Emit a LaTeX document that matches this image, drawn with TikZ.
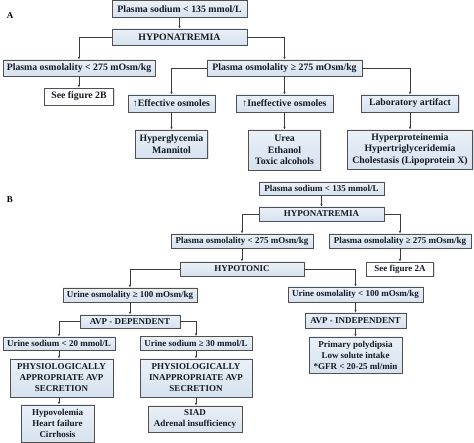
\documentclass[tikz,border=0pt]{standalone}
\usepackage{fontspec}
\setmainfont{Liberation Serif}
\usetikzlibrary{arrows.meta,shadows}
\definecolor{boxline}{HTML}{505050}
\definecolor{boxtop}{HTML}{EAF0F8}
\definecolor{boxbot}{HTML}{D6E2EF}
\definecolor{arrcol}{HTML}{3A3A3A}
\definecolor{txtcol}{HTML}{141A24}
\tikzset{
  bx/.style={draw=boxline, line width=0.9pt, top color=boxtop, bottom color=boxbot,
    drop shadow={shadow xshift=1pt, shadow yshift=-1pt, opacity=0.25},
    text=txtcol, inner sep=0pt, align=center, font=\bfseries\fontsize{9.8}{11.8}\selectfont},
  bxw/.style={bx, top color=white, bottom color=white},
  sb/.style={font=\bfseries\fontsize{9}{11}\selectfont},
  sz/.style 2 args={minimum width=#1pt, minimum height=#2pt},
  arr/.style={draw=arrcol, line width=0.7pt, -{Latex[length=2.6pt,width=2.4pt]}},
  lab/.style={font=\bfseries\fontsize{9}{11}\selectfont, inner sep=0pt}
}
\begin{document}
\begin{tikzpicture}[x=1pt,y=-1pt]
\useasboundingbox (0,0) rectangle (474,443);
% ---------- Part A ----------
\node[lab] (labelA) at (10,16) {A};
\node[bx, sz={135}{17}] (sA) at (179.5,9) {Plasma sodium < 135 mmol/L};
\node[bx, sz={135}{16}] (hA) at (179.5,37) {HYPONATREMIA};
\node[bx, sz={152}{16}] (p1A) at (79,68) {Plasma osmolality < 275 mOsm/kg};
\node[bx, sz={155}{16}] (p2A) at (284.5,68) {Plasma osmolality ≥ 275 mOsm/kg};
\node[bxw, sz={69}{17}] (fig2B) at (79,96.5) {See figure 2B};
\node[bx, sz={87}{17}] (effA) at (171.5,103.5) {↑Effective osmoles};
\node[bx, sz={97}{17}] (inefA) at (284.5,103.5) {↑Ineffective osmoles};
\node[bx, sz={97}{17}] (labA) at (410,103.5) {Laboratory artifact};
\node[bx, sz={72}{28}] (hgA) at (171.5,144) {Hyperglycemia\\Mannitol};
\node[bx, sz={72}{40}] (ureaA) at (284.5,150) {Urea\\Ethanol\\Toxic alcohols};
\node[bx, sz={125}{39}] (hpA) at (410,149.5) {Hyperproteinemia\\Hypertriglyceridemia\\Cholestasis (Lipoprotein X)};
\draw[arr] (sA.south) -- (sA.south |- hA.north);
\draw[arr] (hA.west) -| (p1A.north);
\draw[arr] (hA.east) -| (p2A.north);
\draw[arr] (p1A.south) -- (p1A.south |- fig2B.north);
\draw[arr] (p2A.west) -| (effA.north);
\draw[arr] (p2A.south) -- (p2A.south |- inefA.north);
\draw[arr] (p2A.east) -| (labA.north);
\draw[arr] (effA.south) -- (effA.south |- hgA.north);
\draw[arr] (inefA.south) -- (inefA.south |- ureaA.north);
\draw[arr] (labA.south) -- (labA.south |- hpA.north);
% ---------- Part B ----------
\node[lab] (labelB) at (10,200) {B};
\node[bx, sb, sz={125}{13}] (sB) at (321.5,188.5) {Plasma sodium < 135 mmol/L};
\node[bx, sb, sz={125}{14}] (hB) at (321.5,214) {HYPONATREMIA};
\node[bx, sb, sz={142}{14}] (p1B) at (242,241) {Plasma osmolality < 275 mOsm/kg};
\node[bx, sb, sz={142}{14}] (p2B) at (400,241) {Plasma osmolality ≥ 275 mOsm/kg};
\node[bx, sb, sz={124}{14}] (hypoB) at (242,269) {HYPOTONIC};
\node[bxw, sb, sz={67}{14}] (fig2A) at (400,269) {See figure 2A};
\node[bx, sb, sz={134}{14}] (u1B) at (130,295) {Urine osmolality ≥ 100 mOsm/kg};
\node[bx, sb, sz={135}{15}] (u2B) at (355.5,294.5) {Urine osmolality < 100 mOsm/kg};
\node[bx, sb, sz={100}{13}] (avpdB) at (130,321.5) {AVP - DEPENDENT};
\node[bx, sb, sz={101}{15}] (avpiB) at (355.5,320.5) {AVP - INDEPENDENT};
\node[bx, sb, sz={112}{13}] (na1B) at (59,343.5) {Urine sodium < 20 mmol/L};
\node[bx, sb, sz={112}{14}] (na2B) at (196,343.5) {Urine sodium ≥ 30 mmol/L};
\node[bx, sb, sz={103}{38}] (physAB) at (61.5,378) {PHYSIOLOGICALLY\\APPROPRIATE AVP\\SECRETION};
\node[bx, sb, sz={112}{38}] (physIB) at (196,378) {PHYSIOLOGICALLY\\INAPPROPRIATE AVP\\SECRETION};
\node[bx, sb, sz={73}{37}] (hypoVB) at (57.5,423.5) {Hypovolemia\\Heart failure\\Cirrhosis};
\node[bx, sb, sz={94}{26}] (siadB) at (195,419) {SIAD\\Adrenal insufficiency};
\node[bx, sb, sz={93}{36}] (ppB) at (355.5,355) {Primary polydipsia\\Low solute intake\\*GFR < 20-25 ml/min};
\draw[arr] (sB.south) -- (sB.south |- hB.north);
\draw[arr] (hB.west) -| (p1B.north);
\draw[arr] (hB.east) -| (p2B.north);
\draw[arr] (p1B.south) -- (p1B.south |- hypoB.north);
\draw[arr] (p2B.south) -- (p2B.south |- fig2A.north);
\draw[arr] (hypoB.west) -| (u1B.north);
\draw[arr] (hypoB.east) -| (u2B.north);
\draw[arr] (u1B.south) -- (u1B.south |- avpdB.north);
\draw[arr] (u2B.south) -- (u2B.south |- avpiB.north);
\draw[arr] (avpiB.south) -- (avpiB.south |- ppB.north);
\draw[arr] (avpdB.west) -| (na1B.north);
\draw[arr] (avpdB.east) -| (na2B.north);
\draw[arr] (na1B.south) -- (na1B.south |- physAB.north);
\draw[arr] (na2B.south) -- (na2B.south |- physIB.north);
\draw[arr] (na1B.south |- physAB.south) -- (na1B.south |- hypoVB.north);
\draw[arr] (physIB.south) -- (physIB.south |- siadB.north);
\end{tikzpicture}
\end{document}
